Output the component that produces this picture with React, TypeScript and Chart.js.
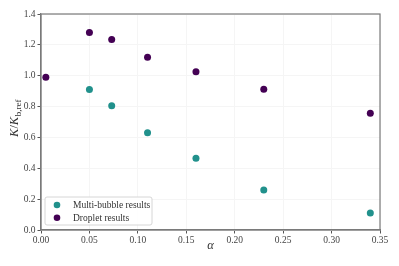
import React, { useEffect, useRef } from "react";
import { Chart, registerables } from "chart.js";
Chart.register(...registerables);

const multiAlpha = [0.05, 0.073, 0.11, 0.16, 0.23, 0.34];
const multiK = [0.91, 0.805, 0.63, 0.465, 0.26, 0.11];
const dropAlpha = [0.005, 0.05, 0.073, 0.11, 0.16, 0.23, 0.34];
const dropK = [0.99, 1.28, 1.235, 1.12, 1.025, 0.913, 0.756];
const seriesNames = ["Multi-bubble results", "Droplet results"];
const seriesColors = ["#21918c", "#440154"];

const FONT = "'Liberation Serif', 'DejaVu Serif', serif";

export default function App() {
  const ref = useRef<HTMLCanvasElement>(null);
  useEffect(() => {
    const ctx = ref.current!;
    const framePlugin = {
      id: "frame",
      afterDraw(chart: any) {
        const c = chart.ctx;
        const a = chart.chartArea;
        c.save();
        c.strokeStyle = "#7a7a7a";
        c.lineWidth = 1.2;
        c.strokeRect(a.left, a.top, a.right - a.left, a.bottom - a.top);
        // y title
        c.fillStyle = "#333";
        c.translate(15, (a.top + a.bottom) / 2 - 4);
        c.rotate(-Math.PI / 2);
        const big = `italic 12.5px ${FONT}`;
        const p1 = "K";
        const p2 = "/";
        const p3 = "K";
        const sub = "b,ref";
        c.font = big;
        const w1 = c.measureText(p1).width;
        c.font = `12.5px ${FONT}`;
        const w2 = c.measureText(p2).width;
        c.font = big;
        const w3 = c.measureText(p3).width;
        c.font = `9px ${FONT}`;
        const w4 = c.measureText(sub).width;
        const total = w1 + w2 + w3 + w4 + 1;
        let x = -total / 2;
        c.textBaseline = "middle";
        c.textAlign = "left";
        c.font = big;
        c.fillText(p1, x, 0);
        x += w1;
        c.font = `12.5px ${FONT}`;
        c.fillText(p2, x, 0);
        x += w2;
        c.font = big;
        c.fillText(p3, x, 0);
        x += w3 + 0.5;
        c.font = `9px ${FONT}`;
        c.fillText(sub, x, 3.5);
        c.restore();
        // x title
        c.save();
        c.fillStyle = "#333";
        c.font = `italic 12.5px ${FONT}`;
        c.textAlign = "center";
        c.textBaseline = "middle";
        c.fillText("α", (a.left + a.right) / 2, 246);
        c.restore();
        // legend
        c.save();
        const lx = a.left + 4, ly = 197, lw = 107, lh = 28;
        c.fillStyle = "rgba(255,255,255,0.85)";
        c.strokeStyle = "#d6d6d6";
        c.lineWidth = 1;
        c.beginPath();
        (c as any).roundRect(lx, ly, lw, lh, 2);
        c.fill();
        c.stroke();
        c.font = `9.5px ${FONT}`;
        c.textBaseline = "middle";
        c.textAlign = "left";
        seriesNames.forEach((n, i) => {
          const yy = ly + 8 + i * 12.7;
          c.fillStyle = seriesColors[i];
          c.beginPath();
          c.arc(lx + 12, yy, 3.3, 0, Math.PI * 2);
          c.fill();
          c.fillStyle = "#333";
          c.fillText(n, lx + 28, yy + 0.5);
        });
        c.restore();
      },
    };
    const chart = new Chart(ctx, {
      type: "scatter",
      data: {
        datasets: [
          {
            label: seriesNames[0],
            data: multiAlpha.map((x, i) => ({ x, y: multiK[i] })),
            backgroundColor: seriesColors[0],
            borderColor: seriesColors[0],
            pointRadius: 3.5,
            borderWidth: 0,
          },
          {
            label: seriesNames[1],
            data: dropAlpha.map((x, i) => ({ x, y: dropK[i] })),
            backgroundColor: seriesColors[1],
            borderColor: seriesColors[1],
            pointRadius: 3.5,
            borderWidth: 0,
          },
        ],
      },
      options: {
        animation: false,
        responsive: false,
        layout: { padding: { left: 0, right: 19, top: 14, bottom: 0 } },
        plugins: { legend: { display: false }, tooltip: { enabled: false } },
        scales: {
          x: {
            type: "linear",
            min: 0,
            max: 0.35,
            afterFit: (s: any) => {
              s.height = 36;
            },
            ticks: {
              stepSize: 0.05,
              color: "#444",
              font: { family: FONT, size: 9.5 },
              padding: 1,
              maxRotation: 0,
              callback: (v: any) => Number(v).toFixed(2),
            },
            grid: { color: "#f5f5f5", tickColor: "#555", tickLength: 3.5 },
            border: { color: "#7a7a7a", width: 1.2 },
          },
          y: {
            type: "linear",
            min: 0,
            max: 1.4,
            afterFit: (s: any) => {
              s.width = 41;
            },
            ticks: {
              stepSize: 0.2,
              color: "#444",
              font: { family: FONT, size: 9.5 },
              padding: 2,
              callback: (v: any) => Number(v).toFixed(1),
            },
            grid: { color: "#f5f5f5", tickColor: "#555", tickLength: 3.5 },
            border: { color: "#7a7a7a", width: 1.2 },
          },
        },
      },
      plugins: [framePlugin],
    });
    return () => chart.destroy();
  }, []);
  return (
    <div style={{ position: "fixed", left: 0, top: 0, width: 399, height: 266, background: "#fff" }}>
      <canvas ref={ref} width={399} height={266} style={{ width: 399, height: 266 }} />
    </div>
  );
}
